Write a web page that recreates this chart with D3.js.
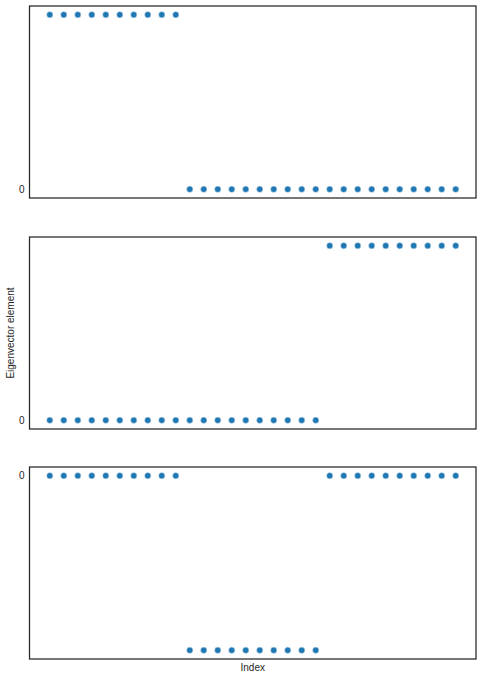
<!DOCTYPE html>
<html>
<head>
<meta charset="utf-8">
<script src="https://cdn.jsdelivr.net/npm/d3@7"></script>
<style>
body{margin:0;background:#fff;}
svg{display:block;font-family:"Liberation Sans",Arial,sans-serif;}
</style>
</head>
<body>
<svg id="chart" width="482" height="679"></svg>
<script>
const indices = d3.range(30);
const v = 0.3162;
const eigvec1 = [v,v,v,v,v,v,v,v,v,v, 0,0,0,0,0,0,0,0,0,0, 0,0,0,0,0,0,0,0,0,0];
const eigvec2 = [0,0,0,0,0,0,0,0,0,0, 0,0,0,0,0,0,0,0,0,0, v,v,v,v,v,v,v,v,v,v];
const eigvec3 = [0,0,0,0,0,0,0,0,0,0, -v,-v,-v,-v,-v,-v,-v,-v,-v,-v, 0,0,0,0,0,0,0,0,0,0];
const series = [eigvec1, eigvec2, eigvec3];
const yTicks = [0];
const yLabel = "Eigenvector element";
const xLabel = "Index";

const svg = d3.select("#chart");
const left = 29.5, right = 476;
const panels = [{top:6, bottom:198},{top:237, bottom:429},{top:467, bottom:659}];

function padded(ext){
  const span = ext[1]-ext[0] || 1;
  return [ext[0]-0.05*span, ext[1]+0.05*span];
}

const x = d3.scaleLinear().domain(padded(d3.extent(indices))).range([left, right]);

series.forEach((vals, i) => {
  const p = panels[i];
  const y = d3.scaleLinear().domain(padded(d3.extent(vals))).range([p.bottom, p.top]);
  const g = svg.append("g");
  const ax = d3.axisLeft(y).tickValues(yTicks).tickFormat(d3.format("d")).tickSize(0).tickPadding(5);
  const ag = g.append("g").attr("transform", `translate(${left},0)`).call(ax);
  ag.select(".domain").remove();
  ag.selectAll("text").attr("font-size", 10).attr("fill", "#262626").attr("font-family", '"Liberation Sans",Arial,sans-serif');
  g.selectAll("circle").data(indices).enter().append("circle")
    .attr("cx", d => x(d))
    .attr("cy", d => y(vals[d]))
    .attr("r", 3.2)
    .attr("fill", "#1f77b4")
    .attr("stroke", "#ffffff")
    .attr("stroke-width", 0.5);
  g.append("rect")
    .attr("x", left).attr("y", p.top)
    .attr("width", right-left).attr("height", p.bottom-p.top)
    .attr("fill", "none").attr("stroke", "#262626").attr("stroke-width", 1.25);
});

svg.append("text")
  .attr("transform", `translate(14,${(panels[1].top+panels[1].bottom)/2}) rotate(-90)`)
  .attr("text-anchor", "middle")
  .attr("font-size", 10).attr("fill", "#262626")
  .text(yLabel);

svg.append("text")
  .attr("x", (left+right)/2).attr("y", 671)
  .attr("text-anchor", "middle")
  .attr("font-size", 10).attr("fill", "#262626")
  .text(xLabel);
</script>
</body>
</html>
